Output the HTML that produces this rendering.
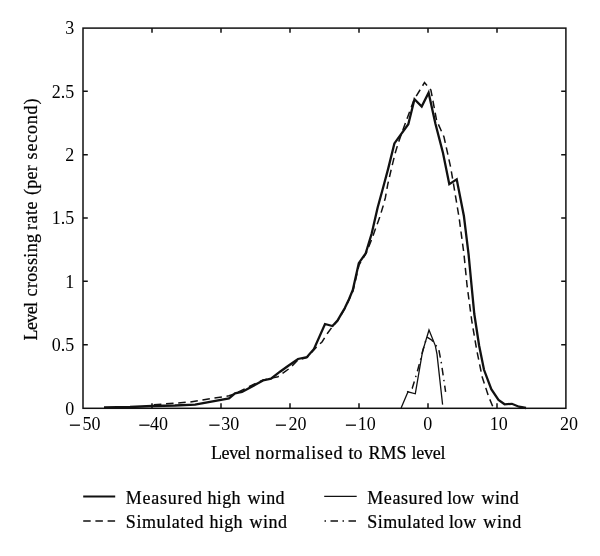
<!DOCTYPE html>
<html>
<head>
<meta charset="utf-8">
<title>Level crossing rate</title>
<style>
html,body{margin:0;padding:0;background:#fff;}
body{width:600px;height:556px;overflow:hidden;}
svg{display:block;will-change:transform;}
text{font-family:"Liberation Serif","DejaVu Serif",serif;font-size:18px;fill:#000;}
.dg text{font-size:18px;}
.dg .mn{font-size:21px;stroke:#000;stroke-width:0.25px;}
.lb{stroke:#000;stroke-width:0.22px;}
.ax{stroke:#111;stroke-width:1.5;fill:none;}
.tk{stroke:#111;stroke-width:1.5;fill:none;}
.c1{stroke:#111;stroke-width:2.3;fill:none;stroke-linejoin:miter;}
.c2{stroke:#111;stroke-width:1.5;fill:none;stroke-dasharray:7.5 4.7;}
.c3{stroke:#111;stroke-width:1.3;fill:none;}
.c4{stroke:#111;stroke-width:1.5;fill:none;stroke-dasharray:7.5 4.5 1.5 4.5;stroke-dashoffset:9.72;}
.c4l{stroke:#111;stroke-width:1.6;fill:none;stroke-dasharray:1.5 4.5 7.5 4.5;}
</style>
</head>
<body>
<svg width="600" height="556" viewBox="0 0 600 556">
<rect width="600" height="556" fill="#fff"/>
<!-- frame -->
<rect class="ax" x="83" y="28.1" width="482.9" height="380.2"/>
<!-- x ticks bottom -->
<path class="tk" d="M152 408v-4.8M221 408v-4.8M290 408v-4.8M359 408v-4.8M428 408v-4.8M497 408v-4.8"/>
<!-- x ticks top -->
<path class="tk" d="M152 28v4.8M221 28v4.8M290 28v4.8M359 28v4.8M428 28v4.8M497 28v4.8"/>
<!-- y ticks left -->
<path class="tk" d="M83 344.7h4.8M83 281.3h4.8M83 218h4.8M83 154.7h4.8M83 91.3h4.8"/>
<!-- y ticks right -->
<path class="tk" d="M566 344.7h-4.8M566 281.3h-4.8M566 218h-4.8M566 154.7h-4.8M566 91.3h-4.8"/>

<!-- measured high wind -->
<polyline class="c1" points="104,407.5 130,407 152,406 175,405.5 195,404.6 229,398.3 235,393.3 242,392 263,380.5 271,378.7 280,371.7 288,366 298,359 307,357 314,349 325,324 332.5,326 337.5,320.5 341.1,314.3 344.7,308.3 349,299.2 352.8,290 358.8,263.2 365.7,253.3 371.7,233.5 377.6,207.7 383,188 388,169.4 394.4,143.4 408.3,124.2 414.5,99.2 421.7,106.6 428.6,92.7 435.5,124 443,153 449.3,184.2 456.7,179.4 463.9,216 468.5,253.5 471.5,285 474.3,314 479.1,345.5 484,369.8 491.3,389.2 498.5,400 504.6,404.3 511.9,403.8 519,406.7 526,408"/>
<!-- simulated high wind -->
<polyline class="c2" stroke-dashoffset="8.3" points="150,405 190,402 229,395.8 236,393.3 253,384.7 263,380 278,376.7 290,368 298,360 307,357.5 317,346.5 322,342 327.7,333 332.5,326.5 337.5,321 341.1,314.8 344.7,308.8 349,299.8 353,291 359,265 366.3,253 371.7,239.4 375.2,229.5 379.6,217.6 383.2,205.7 385.3,198 387.8,184.2 391.6,167.8 395.3,152.7 398.3,142.8 403.5,128.3 413.9,100 424.5,82.6 430.9,90 436.6,120.4 444,137 450.6,167 453.4,183.4 459.2,218.4 463.9,253.5 467,285 471.8,321 476.7,350 482.2,377 488.6,396.5 493.2,407.6"/>
<!-- measured low wind -->
<polyline class="c3" points="401.1,408 408,391.8 415.3,393.8 422.5,351.6 429,330 435.3,345.6 437,354.2 442.6,404.6"/>
<!-- simulated low wind -->
<polyline class="c4" points="405.4,393.5 412.2,388.4 417.4,371.3 423.3,349 426.8,337 431.9,340.2 438.7,349 441.3,362.7 445.6,391.8"/>

<!-- x tick labels -->
<g class="dg">
<text y="429.7"><tspan class="mn" x="69.1" dy="2.6">−</tspan><tspan x="82.4" dy="-2.6">50</tspan></text>
<text y="429.7"><tspan class="mn" x="138.4" dy="2.6">−</tspan><tspan x="150.0" dy="-2.6">40</tspan></text>
<text y="429.7"><tspan class="mn" x="208.4" dy="2.6">−</tspan><tspan x="221.3" dy="-2.6">30</tspan></text>
<text y="429.7"><tspan class="mn" x="275.1" dy="2.6">−</tspan><tspan x="288.5" dy="-2.6">20</tspan></text>
<text y="429.7"><tspan class="mn" x="345.1" dy="2.6">−</tspan><tspan x="357.8" dy="-2.6">10</tspan></text>
<text x="423.3" y="429.7">0</text>
<text x="489.8" y="429.7">10</text>
<text x="560" y="429.7">20</text>
</g>
<!-- y tick labels -->
<g text-anchor="end" class="dg">
<text x="74.2" y="34.2">3</text>
<text x="74.2" y="97.5">2.5</text>
<text x="74.2" y="160.9">2</text>
<text x="74.2" y="224.2">1.5</text>
<text x="74.2" y="287.5">1</text>
<text x="74.2" y="350.9">0.5</text>
<text x="74.2" y="415.0">0</text>
</g>
<!-- axis labels -->
<text id="xl" class="lb" y="458.9"><tspan x="211.0" letter-spacing="-0.38">Level</tspan> <tspan x="255.5" letter-spacing="0.78">normalised</tspan> <tspan x="348.5" letter-spacing="0.00">to</tspan> <tspan x="368.5" letter-spacing="0.00">RMS</tspan> <tspan x="411.5" letter-spacing="-0.25">level</tspan></text>
<text id="yl" class="lb" transform="translate(36.6,339.5) rotate(-90)"><tspan x="-1.0" letter-spacing="-0.60">Level</tspan> <tspan x="43.1" letter-spacing="0.34">crossing</tspan> <tspan x="109.6" letter-spacing="0.45">rate</tspan> <tspan x="144.4" letter-spacing="0.3">(per</tspan> <tspan x="180.1" letter-spacing="0.8">second)</tspan></text>

<!-- legend -->
<line x1="83.2" y1="496.5" x2="115.2" y2="496.5" class="c1" stroke-width="1.9" style="stroke-width:1.9"/>
<text id="l1" class="lb" y="503.8"><tspan x="125.8" letter-spacing="0.75">Measured</tspan> <tspan x="207.5" letter-spacing="0.33">high</tspan> <tspan x="247.5" letter-spacing="0.33">wind</tspan></text>
<line x1="83.2" y1="521" x2="115.2" y2="521" class="c2" style="stroke-width:1.6"/>
<text id="l2" class="lb" y="527.7"><tspan x="125.8" letter-spacing="0.59">Simulated</tspan> <tspan x="209.5" letter-spacing="0.33">high</tspan> <tspan x="249.5" letter-spacing="0.50">wind</tspan></text>
<line x1="324.2" y1="496.3" x2="356.7" y2="496.3" class="c3"/>
<text id="l3" class="lb" y="503.8"><tspan x="367.2" letter-spacing="0.61">Measured</tspan> <tspan x="447.2" letter-spacing="0.05">low</tspan> <tspan x="481.5" letter-spacing="0.40">wind</tspan></text>
<line x1="324.5" y1="521" x2="356.5" y2="521" class="c4l"/>
<text id="l4" class="lb" y="527.7"><tspan x="367.2" letter-spacing="0.47">Simulated</tspan> <tspan x="449.0" letter-spacing="0.12">low</tspan> <tspan x="483.3" letter-spacing="0.65">wind</tspan></text>
</svg>
</body>
</html>
